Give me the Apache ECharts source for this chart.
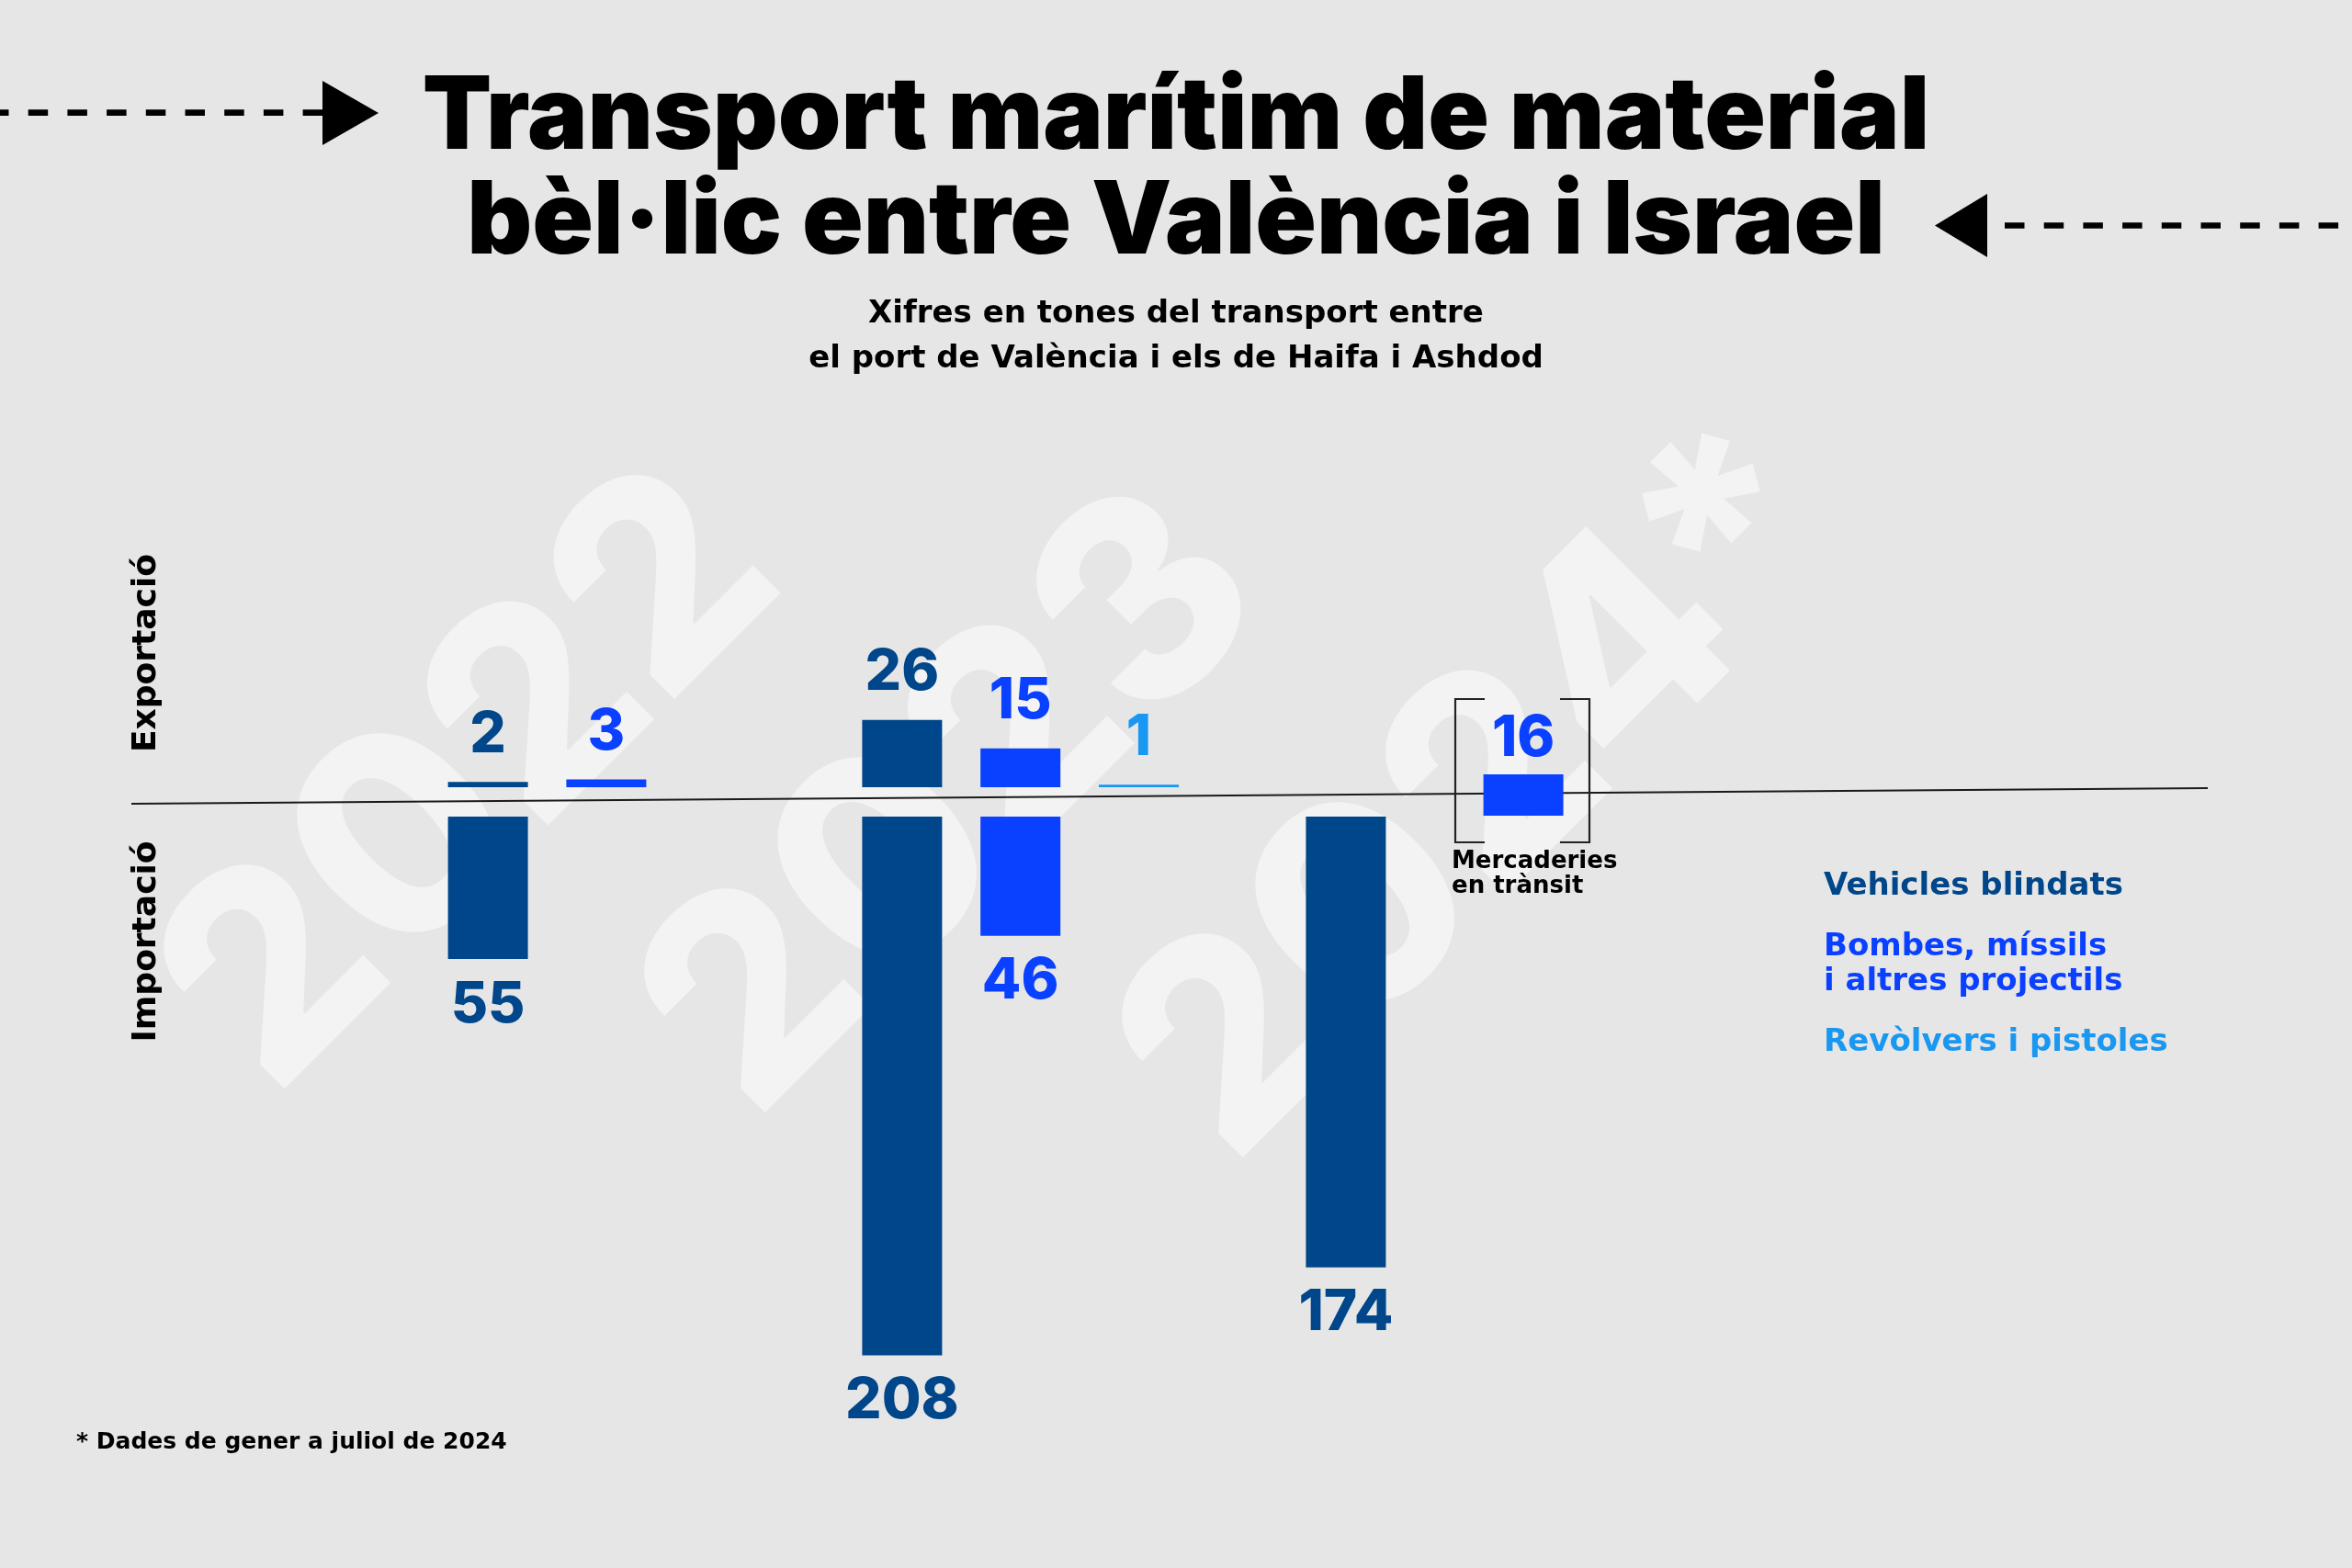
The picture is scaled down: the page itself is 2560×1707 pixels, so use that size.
<!DOCTYPE html>
<html>
<head>
<meta charset="utf-8">
<script src="https://cdn.jsdelivr.net/npm/echarts@6/dist/echarts.min.js"></script>
<style>
  html, body { margin: 0; padding: 0; background: #e6e6e6; }
  #chart { width: 2560px; height: 1707px; }
</style>
</head>
<body>
<div id="chart"></div>
<script>
// ---------------- DATA ----------------
const years = ['2022', '2023', '2024*'];
const typeNames = ['Vehicles blindats', 'Bombes, míssils i altres projectils', 'Revòlvers i pistoles'];
const legendLabels = ['Vehicles blindats', 'Bombes, míssils\ni altres projectils', 'Revòlvers i pistoles'];
// tonnes, per year (2022, 2023, 2024*)
const exportVehicles  = [2, 26, null];
const exportBombs     = [3, 15, null];
const exportRevolvers = [null, 1, null];
const importVehicles  = [55, 208, 174];
const importBombs     = [null, 46, null];
const transitBombs    = [null, null, 16];   // "Mercaderies en trànsit"

const titleLines = ['Transport marítim de material', 'bèl·lic entre València i Israel'];
const subtitleLines = ['Xifres en tones del transport entre', 'el port de València i els de Haifa i Ashdod'];
const exportLabel = 'Exportació';
const importLabel = 'Importació';
const transitLabel = 'Mercaderies\nen trànsit';
const footnote = '* Dades de gener a juliol de 2024';

// ---------------- LAYOUT / STYLE ----------------
const COLORS = ['#00468a', '#0a40ff', '#1a97f0'];
const BG = '#e6e6e6';
const SLOT_COUNT = 36;
const YEAR_START = [0, 14, 29];
const TYPE_STEP = 4;
const TRANSIT_OFFSET = 6;
const slots = Array.from({ length: SLOT_COUNT }, (_, i) => 'slot' + i);

function toSlots(values, offset) {
  const arr = new Array(SLOT_COUNT).fill(null);
  values.forEach((v, y) => { if (v != null) arr[YEAR_START[y] + offset] = v; });
  return arr;
}

const K = 2.82;              // px per tonne
const GRID_LEFT = 515;
const GRID_WIDTH = 32.2 * SLOT_COUNT;
const EXP_BASE = 857;
const IMP_TOP = 889;
const TR_BASE = 888;
const EXP_MAX = 60, IMP_MAX = 230;

const LABEL_FONT = { fontFamily: 'Inter', fontWeight: 800, fontSize: 62 };
const BODY_FONT = 'DejaVu Sans';

function barSeries(name, data, colorIdx, axisIdx, pos, dist) {
  return {
    type: 'bar', name, data,
    xAxisIndex: axisIdx, yAxisIndex: axisIdx,
    barWidth: 87, barGap: '-100%', clip: false,
    itemStyle: { color: COLORS[colorIdx] },
    label: Object.assign({ show: true, position: pos, distance: dist, color: COLORS[colorIdx] }, LABEL_FONT),
    z: 5
  };
}

const chart = echarts.init(document.getElementById('chart'), null, { renderer: 'canvas' });

// watermark year texts (tail of first glyph baseline)
const yearTails = [[293, 1192], [816, 1218], [1336, 1267]];
const watermarks = years.map((y, i) => ({
  type: 'text',
  x: yearTails[i][0] + 48, y: yearTails[i][1] + 48,
  rotation: Math.PI / 4,
  z: 0, silent: true,
  style: { text: y, fill: '#f3f3f3', font: '800 305px Inter', textAlign: 'left', textVerticalAlign: 'bottom' }
}));

const graphics = watermarks.concat([
  // left arrow
  { type: 'line', z: 10, shape: { x1: -12, y1: 122.7, x2: 351, y2: 122.7 },
    style: { stroke: '#000', lineWidth: 6.7, lineDash: [21.5, 21.2] } },
  { type: 'polygon', z: 10, shape: { points: [[351, 88], [412, 123], [351, 158]] }, style: { fill: '#000' } },
  // right arrow
  { type: 'polygon', z: 10, shape: { points: [[2163, 211], [2106, 245.5], [2163, 280]] }, style: { fill: '#000' } },
  { type: 'line', z: 10, shape: { x1: 2182, y1: 245.5, x2: 2600, y2: 245.5 },
    style: { stroke: '#000', lineWidth: 6.7, lineDash: [21.5, 21.2] } },
  // baseline
  { type: 'line', z: 1, shape: { x1: 143, y1: 875, x2: 2403, y2: 858 },
    style: { stroke: '#1a1a1a', lineWidth: 2 } },
  // transit brackets
  { type: 'polyline', z: 10, shape: { points: [[1616, 761], [1584, 761], [1584, 917], [1616, 917]] },
    style: { stroke: '#222', lineWidth: 2.2, fill: null } },
  { type: 'polyline', z: 10, shape: { points: [[1698, 761], [1730, 761], [1730, 917], [1698, 917]] },
    style: { stroke: '#222', lineWidth: 2.2, fill: null } },
  // side labels
  { type: 'text', z: 10, x: 160, y: 711, rotation: Math.PI / 2,
    style: { text: exportLabel, fill: '#000', font: 'bold 36px "' + BODY_FONT + '"', textAlign: 'center', textVerticalAlign: 'middle' } },
  { type: 'text', z: 10, x: 160, y: 1025, rotation: Math.PI / 2,
    style: { text: importLabel, fill: '#000', font: 'bold 36px "' + BODY_FONT + '"', textAlign: 'center', textVerticalAlign: 'middle' } },
  // transit note
  { type: 'text', z: 10, x: 1580, y: 925,
    style: { text: transitLabel, fill: '#000', font: 'bold 26px "' + BODY_FONT + '"', lineHeight: 27, textAlign: 'left', textVerticalAlign: 'top' } },
  // footnote
  { type: 'text', z: 10, x: 83, y: 1558,
    style: { text: footnote, fill: '#000', font: 'bold 25px "' + BODY_FONT + '"', lineHeight: 25, textAlign: 'left', textVerticalAlign: 'top' } }
]);

const option = {
  backgroundColor: BG,
  animation: false,
  title: [
    { text: titleLines.join('\n'), left: 'center', top: 72, padding: 0,
      textStyle: { fontFamily: 'Inter', fontWeight: 900, fontSize: 110, lineHeight: 114, color: '#000' } },
    { text: subtitleLines.join('\n'), left: 'center', top: 318, padding: 0,
      textStyle: { fontFamily: BODY_FONT, fontWeight: 'bold', fontSize: 34, lineHeight: 49, color: '#000' } }
  ],
  legend: {
    orient: 'vertical', left: 1980, top: 946, padding: 0,
    itemWidth: 0, itemHeight: 0, itemGap: 28, icon: 'rect', selectedMode: false,
    data: typeNames.map((n, i) => ({ name: n, textStyle: { color: COLORS[i] } })),
    formatter: n => legendLabels[typeNames.indexOf(n)],
    textStyle: { fontFamily: BODY_FONT, fontWeight: 'bold', fontSize: 34, lineHeight: 38 }
  },
  grid: [
    { left: GRID_LEFT, width: GRID_WIDTH, top: EXP_BASE - EXP_MAX * K, height: EXP_MAX * K },
    { left: GRID_LEFT, width: GRID_WIDTH, top: IMP_TOP, height: IMP_MAX * K },
    { left: GRID_LEFT, width: GRID_WIDTH, top: TR_BASE - EXP_MAX * K, height: EXP_MAX * K }
  ],
  xAxis: [0, 1, 2].map(i => ({ type: 'category', gridIndex: i, data: slots, show: false })),
  yAxis: [
    { type: 'value', gridIndex: 0, min: 0, max: EXP_MAX, show: false },
    { type: 'value', gridIndex: 1, min: 0, max: IMP_MAX, inverse: true, show: false },
    { type: 'value', gridIndex: 2, min: 0, max: EXP_MAX, show: false }
  ],
  series: [
    barSeries(typeNames[0], toSlots(exportVehicles, 0), 0, 0, 'top', 20),
    barSeries(typeNames[1], toSlots(exportBombs, TYPE_STEP), 1, 0, 'top', 20),
    barSeries(typeNames[2], toSlots(exportRevolvers, 2 * TYPE_STEP), 2, 0, 'top', 20),
    barSeries(typeNames[0], toSlots(importVehicles, 0), 0, 1, 'bottom', 19),
    barSeries(typeNames[1], toSlots(importBombs, TYPE_STEP), 1, 1, 'bottom', 19),
    barSeries(typeNames[1], toSlots(transitBombs, TRANSIT_OFFSET), 1, 2, 'top', 8)
  ],
  graphic: { elements: graphics }
};
chart.setOption(option);
</script>
</body>
</html>
